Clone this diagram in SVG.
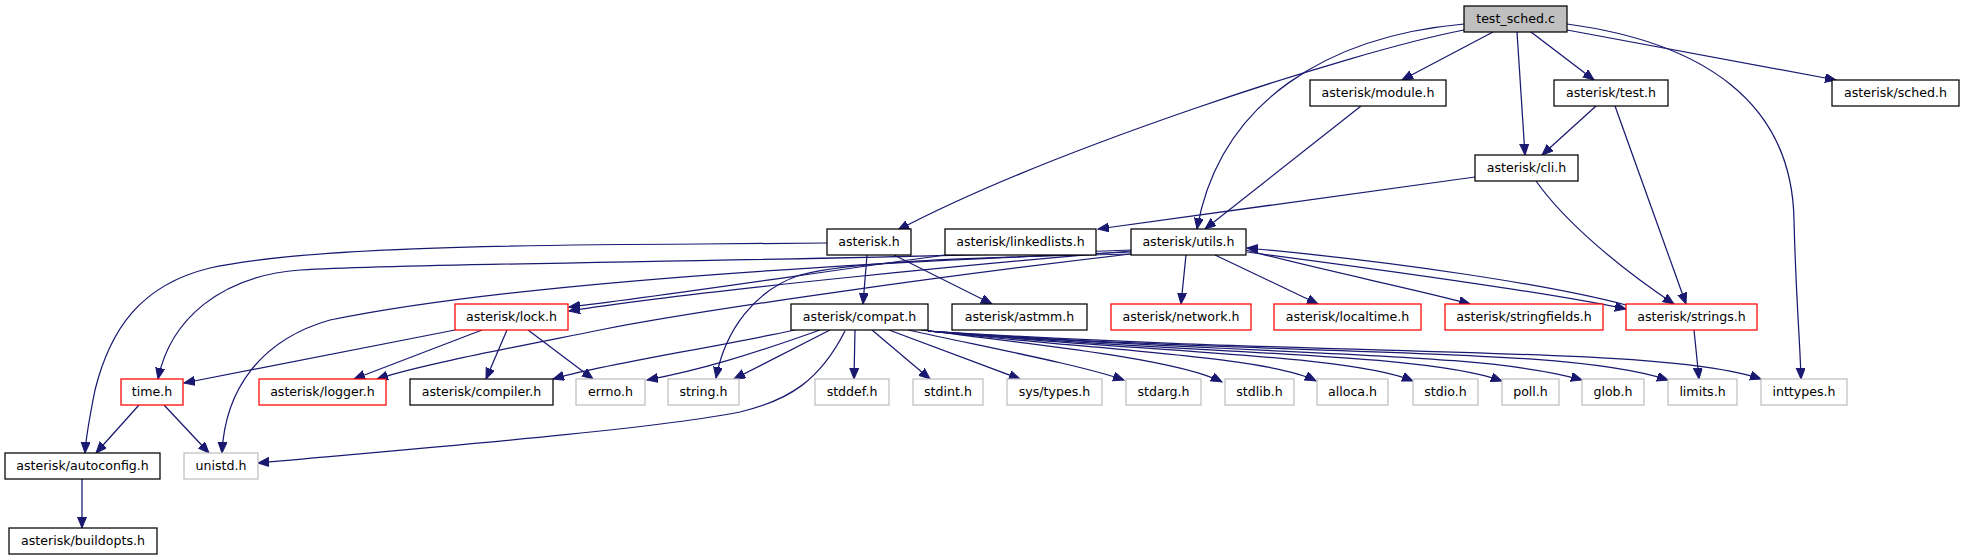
<svg xmlns="http://www.w3.org/2000/svg" width="1965" height="560" viewBox="0 0 1965 560">
<style>
.n rect{fill:#fff;stroke:#000;stroke-width:1.25}
.n.r rect{stroke:#ff0000}
.n.g rect{stroke:#bfbfbf}
.n.root rect{fill:#bfbfbf}
.n text{font-family:"DejaVu Sans",sans-serif;font-size:12.6px;text-anchor:middle;fill:#000}
#edges path{fill:none;stroke:#191970;stroke-width:1.25;marker-end:url(#a)}
</style>
<defs>
<marker id="a" markerUnits="userSpaceOnUse" markerWidth="12" markerHeight="10" refX="11" refY="4.5" orient="auto"><path d="M0,0 L11,4.5 L0,9 z" fill="#191970" stroke="#191970" stroke-width="1"/></marker>
</defs>
<rect width="1965" height="560" fill="#fff"/>
<g id="edges">
<path d="M1464,30 C1350,52 1050,150 898,230"/>
<path d="M1464,24 C1330,36 1220,100 1197,229"/>
<path d="M1493,32 L1402,80"/>
<path d="M1517,32 L1525,155"/>
<path d="M1531,32 L1594,80"/>
<path d="M1567,30 L1836,80"/>
<path d="M1567,24 C1700,42 1792,100 1794,220 C1796,300 1800,340 1801,379"/>
<path d="M1361,106 L1205,229"/>
<path d="M1596,106 L1542,155"/>
<path d="M1615,106 L1686,304"/>
<path d="M1536,181 C1565,222 1620,268 1674,304"/>
<path d="M1475,177 L1098,229"/>
<path d="M867,255 L863,304"/>
<path d="M894,255 L992,304"/>
<path d="M827,243 L700,244 C500,245 300,248 210,268 C140,285 110,330 95,390 C90,415 86,435 85,453"/>
<path d="M945,255 C800,275 650,298 569,307"/>
<path d="M1131,251 C1000,262 700,290 569,311"/>
<path d="M1131,250 C800,262 450,262 300,270 C220,276 170,320 158,379"/>
<path d="M1131,252 C800,265 500,285 330,320 C260,340 225,390 222,453"/>
<path d="M1131,254 C950,258 850,262 800,275 C755,290 725,330 716,378"/>
<path d="M1131,254 C950,275 700,310 600,330 C500,350 420,365 377,379"/>
<path d="M1186,255 L1181,304"/>
<path d="M1215,255 L1318,304"/>
<path d="M1246,250 C1320,270 1420,290 1470,304"/>
<path d="M1247,252 C1400,272 1560,295 1626,309"/>
<path d="M1626,305 C1550,285 1400,262 1247,248"/>
<path d="M455,330 L184,383"/>
<path d="M482,330 L354,379"/>
<path d="M507,330 L486,379"/>
<path d="M528,330 L593,379"/>
<path d="M795,330 C700,350 600,365 553,379"/>
<path d="M820,330 C750,355 700,370 647,380"/>
<path d="M830,330 L734,379"/>
<path d="M845,331 C820,380 790,400 740,412 C650,430 400,450 258,463"/>
<path d="M855,330 L854,379"/>
<path d="M872,330 L930,379"/>
<path d="M889,330 L1020,379"/>
<path d="M908,330 C1000,350 1080,365 1124,380"/>
<path d="M921,330 C1050,346 1180,360 1222,382"/>
<path d="M928,331 C1100,350 1270,357 1316,381"/>
<path d="M928,331 C1150,352 1350,355 1413,381"/>
<path d="M928,331 C1200,355 1420,352 1502,381"/>
<path d="M928,331 C1250,356 1480,350 1582,380"/>
<path d="M928,331 C1300,358 1560,345 1668,380"/>
<path d="M928,331 C1350,358 1660,345 1761,379"/>
<path d="M1694,330 L1699,379"/>
<path d="M139,405 L96,453"/>
<path d="M164,405 L209,453"/>
<path d="M82,479 L82,528"/>
</g>
<g id="n_test_sched" class="n root"><rect x="1464" y="6" width="103" height="26"/><text x="1515.5" y="23">test_sched.c</text></g>
<g id="n_module" class="n"><rect x="1310" y="80" width="136" height="26"/><text x="1378" y="97">asterisk/module.h</text></g>
<g id="n_test" class="n"><rect x="1554" y="80" width="114" height="26"/><text x="1611" y="97">asterisk/test.h</text></g>
<g id="n_sched" class="n"><rect x="1832" y="80" width="127" height="26"/><text x="1895.5" y="97">asterisk/sched.h</text></g>
<g id="n_cli" class="n"><rect x="1475" y="155" width="103" height="26"/><text x="1526.5" y="172">asterisk/cli.h</text></g>
<g id="n_asterisk" class="n"><rect x="827" y="229" width="84" height="26"/><text x="869" y="246">asterisk.h</text></g>
<g id="n_linkedlists" class="n"><rect x="945" y="229" width="151" height="26"/><text x="1020.5" y="246">asterisk/linkedlists.h</text></g>
<g id="n_utils" class="n"><rect x="1131" y="229" width="115" height="26"/><text x="1188.5" y="246">asterisk/utils.h</text></g>
<g id="n_lock" class="n r"><rect x="455" y="304" width="113" height="26"/><text x="511.5" y="321">asterisk/lock.h</text></g>
<g id="n_compat" class="n"><rect x="791" y="304" width="137" height="26"/><text x="859.5" y="321">asterisk/compat.h</text></g>
<g id="n_astmm" class="n"><rect x="952" y="304" width="135" height="26"/><text x="1019.5" y="321">asterisk/astmm.h</text></g>
<g id="n_network" class="n r"><rect x="1111" y="304" width="140" height="26"/><text x="1181" y="321">asterisk/network.h</text></g>
<g id="n_localtime" class="n r"><rect x="1274" y="304" width="147" height="26"/><text x="1347.5" y="321">asterisk/localtime.h</text></g>
<g id="n_stringfields" class="n r"><rect x="1445" y="304" width="158" height="26"/><text x="1524" y="321">asterisk/stringfields.h</text></g>
<g id="n_strings" class="n r"><rect x="1626" y="304" width="131" height="26"/><text x="1691.5" y="321">asterisk/strings.h</text></g>
<g id="n_time" class="n r"><rect x="121" y="379" width="62" height="26"/><text x="152" y="396">time.h</text></g>
<g id="n_logger" class="n r"><rect x="259" y="379" width="127" height="26"/><text x="322.5" y="396">asterisk/logger.h</text></g>
<g id="n_compiler" class="n"><rect x="410" y="379" width="143" height="26"/><text x="481.5" y="396">asterisk/compiler.h</text></g>
<g id="n_errno" class="n g"><rect x="576" y="379" width="69" height="26"/><text x="610.5" y="396">errno.h</text></g>
<g id="n_string" class="n g"><rect x="668" y="379" width="71" height="26"/><text x="703.5" y="396">string.h</text></g>
<g id="n_stddef" class="n g"><rect x="815" y="379" width="74" height="26"/><text x="852" y="396">stddef.h</text></g>
<g id="n_stdint" class="n g"><rect x="913" y="379" width="70" height="26"/><text x="948" y="396">stdint.h</text></g>
<g id="n_systypes" class="n g"><rect x="1007" y="379" width="95" height="26"/><text x="1054.5" y="396">sys/types.h</text></g>
<g id="n_stdarg" class="n g"><rect x="1126" y="379" width="75" height="26"/><text x="1163.5" y="396">stdarg.h</text></g>
<g id="n_stdlib" class="n g"><rect x="1225" y="379" width="69" height="26"/><text x="1259.5" y="396">stdlib.h</text></g>
<g id="n_alloca" class="n g"><rect x="1317" y="379" width="71" height="26"/><text x="1352.5" y="396">alloca.h</text></g>
<g id="n_stdio" class="n g"><rect x="1413" y="379" width="65" height="26"/><text x="1445.5" y="396">stdio.h</text></g>
<g id="n_poll" class="n g"><rect x="1502" y="379" width="57" height="26"/><text x="1530.5" y="396">poll.h</text></g>
<g id="n_glob" class="n g"><rect x="1582" y="379" width="62" height="26"/><text x="1613" y="396">glob.h</text></g>
<g id="n_limits" class="n g"><rect x="1668" y="379" width="69" height="26"/><text x="1702.5" y="396">limits.h</text></g>
<g id="n_inttypes" class="n g"><rect x="1761" y="379" width="86" height="26"/><text x="1804" y="396">inttypes.h</text></g>
<g id="n_autoconfig" class="n"><rect x="5" y="453" width="155" height="26"/><text x="82.5" y="470">asterisk/autoconfig.h</text></g>
<g id="n_unistd" class="n g"><rect x="184" y="453" width="74" height="26"/><text x="221" y="470">unistd.h</text></g>
<g id="n_buildopts" class="n"><rect x="9" y="528" width="148" height="26"/><text x="83" y="545">asterisk/buildopts.h</text></g>
</svg>
